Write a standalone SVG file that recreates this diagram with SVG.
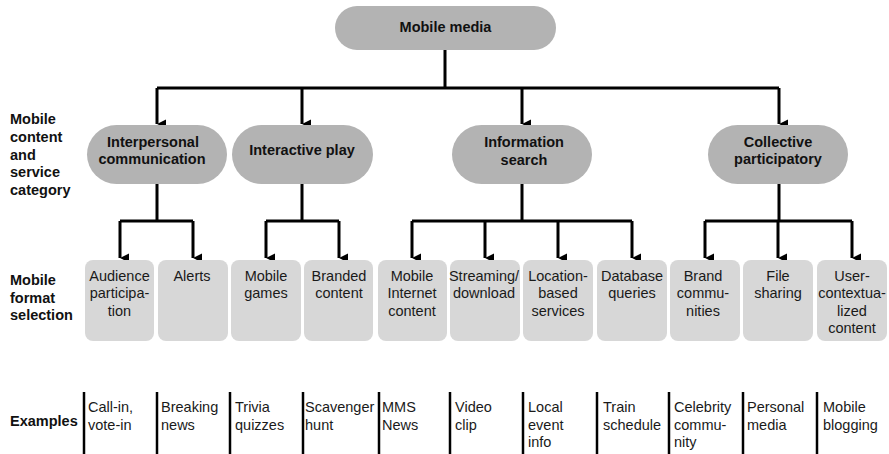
<svg xmlns="http://www.w3.org/2000/svg" width="889" height="454" viewBox="0 0 889 454">
  <style>
    .pill { fill: #b3b3b3; }
    .fmt { fill: #d7d7d7; }
    .bold { font-family: "Liberation Sans", Arial, sans-serif; font-weight: bold; font-size: 14.5px; fill: #111; }
    .reg { font-family: "Liberation Sans", Arial, sans-serif; font-size: 14.5px; fill: #1a1a1a; }
    .mid { text-anchor: middle; }
    .conn { fill: none; stroke: #000; stroke-width: 3; }
    .sep { stroke: #000; stroke-width: 2.5; }
  </style>
  <defs>
    <marker id="arrow" markerUnits="userSpaceOnUse" markerWidth="12" markerHeight="12" viewBox="0 0 12 12" refX="6" refY="10.5" orient="auto-start-reverse">
      <path d="M1.5,1.5 L10.5,1.5 L6,10.5 Z" fill="#000"/>
    </marker>
  </defs>

  <rect width="889" height="454" fill="#fff"/>

  <!-- Row labels -->
  <g id="row-labels">
    <text class="bold" x="10" y="124">Mobile</text>
    <text class="bold" x="10" y="142">content</text>
    <text class="bold" x="10" y="160">and</text>
    <text class="bold" x="10" y="177">service</text>
    <text class="bold" x="10" y="195">category</text>
    <text class="bold" x="10" y="285">Mobile</text>
    <text class="bold" x="10" y="303">format</text>
    <text class="bold" x="10" y="320">selection</text>
    <text class="bold" x="10" y="426">Examples</text>
  </g>

  <!-- Connectors -->
  <g id="connectors">
    <path class="conn" d="M445,50 V88 M157,88 H779"/>
    <path class="conn" d="M157,88 V124" marker-end="url(#arrow)"/>
    <path class="conn" d="M302,88 V124" marker-end="url(#arrow)"/>
    <path class="conn" d="M522,88 V124" marker-end="url(#arrow)"/>
    <path class="conn" d="M779,88 V124" marker-end="url(#arrow)"/>

    <path class="conn" d="M157,184 V221 M120,221 H193"/>
    <path class="conn" d="M120,221 V258" marker-end="url(#arrow)"/>
    <path class="conn" d="M193,221 V258" marker-end="url(#arrow)"/>

    <path class="conn" d="M302,184 V221 M266,221 H339"/>
    <path class="conn" d="M266,221 V258" marker-end="url(#arrow)"/>
    <path class="conn" d="M339,221 V258" marker-end="url(#arrow)"/>

    <path class="conn" d="M522,184 V221 M412,221 H632"/>
    <path class="conn" d="M412,221 V258" marker-end="url(#arrow)"/>
    <path class="conn" d="M485,221 V258" marker-end="url(#arrow)"/>
    <path class="conn" d="M558,221 V258" marker-end="url(#arrow)"/>
    <path class="conn" d="M632,221 V258" marker-end="url(#arrow)"/>

    <path class="conn" d="M779,184 V221 M705,221 H852"/>
    <path class="conn" d="M705,221 V258" marker-end="url(#arrow)"/>
    <path class="conn" d="M778,221 V258" marker-end="url(#arrow)"/>
    <path class="conn" d="M852,221 V258" marker-end="url(#arrow)"/>
  </g>

  <!-- Root -->
  <g id="mobile-media">
    <rect class="pill" x="335" y="6" width="221" height="44" rx="22"/>
    <text class="bold mid" x="445.5" y="32">Mobile media</text>
  </g>

  <!-- Categories -->
  <g id="interpersonal-communication">
    <rect class="pill" x="87" y="125" width="140" height="59" rx="29.5"/>
    <text class="bold mid" x="153" y="147">Interpersonal</text>
    <text class="bold mid" x="152" y="164">communication</text>
  </g>
  <g id="interactive-play">
    <rect class="pill" x="232" y="125" width="141" height="59" rx="29.5"/>
    <text class="bold mid" x="302" y="155">Interactive play</text>
  </g>
  <g id="information-search">
    <rect class="pill" x="452" y="125" width="140" height="59" rx="29.5"/>
    <text class="bold mid" x="524" y="147">Information</text>
    <text class="bold mid" x="524" y="165">search</text>
  </g>
  <g id="collective-participatory">
    <rect class="pill" x="708" y="125" width="140" height="59" rx="29.5"/>
    <text class="bold mid" x="778" y="147">Collective</text>
    <text class="bold mid" x="778" y="164">participatory</text>
  </g>

  <!-- Formats -->
  <g id="audience-participation">
    <rect class="fmt" x="85" y="260" width="69" height="81" rx="8"/>
    <text class="reg mid" x="119.5" y="281">Audience</text>
    <text class="reg mid" x="119.5" y="298">participa-</text>
    <text class="reg mid" x="119.5" y="316">tion</text>
  </g>
  <g id="alerts">
    <rect class="fmt" x="158" y="260" width="70" height="81" rx="8"/>
    <text class="reg mid" x="192" y="281">Alerts</text>
  </g>
  <g id="mobile-games">
    <rect class="fmt" x="231" y="260" width="70" height="81" rx="8"/>
    <text class="reg mid" x="266" y="281">Mobile</text>
    <text class="reg mid" x="266" y="298">games</text>
  </g>
  <g id="branded-content">
    <rect class="fmt" x="304" y="260" width="69" height="81" rx="8"/>
    <text class="reg mid" x="339" y="281">Branded</text>
    <text class="reg mid" x="339" y="298">content</text>
  </g>
  <g id="mobile-internet-content">
    <rect class="fmt" x="378" y="260" width="69" height="81" rx="8"/>
    <text class="reg mid" x="412" y="281">Mobile</text>
    <text class="reg mid" x="412" y="298">Internet</text>
    <text class="reg mid" x="412" y="316">content</text>
  </g>
  <g id="streaming-download">
    <rect class="fmt" x="450" y="260" width="70" height="81" rx="8"/>
    <text class="reg mid" x="484" y="281">Streaming/</text>
    <text class="reg mid" x="484" y="298">download</text>
  </g>
  <g id="location-based-services">
    <rect class="fmt" x="523" y="260" width="70" height="81" rx="8"/>
    <text class="reg mid" x="558" y="281">Location-</text>
    <text class="reg mid" x="558" y="298">based</text>
    <text class="reg mid" x="558" y="316">services</text>
  </g>
  <g id="database-queries">
    <rect class="fmt" x="597" y="260" width="70" height="81" rx="8"/>
    <text class="reg mid" x="632" y="281">Database</text>
    <text class="reg mid" x="632" y="298">queries</text>
  </g>
  <g id="brand-communities">
    <rect class="fmt" x="670" y="260" width="70" height="81" rx="8"/>
    <text class="reg mid" x="703" y="281">Brand</text>
    <text class="reg mid" x="703" y="298">commu-</text>
    <text class="reg mid" x="703" y="316">nities</text>
  </g>
  <g id="file-sharing">
    <rect class="fmt" x="743" y="260" width="70" height="81" rx="8"/>
    <text class="reg mid" x="778" y="281">File</text>
    <text class="reg mid" x="778" y="298">sharing</text>
  </g>
  <g id="user-contextualized-content">
    <rect class="fmt" x="817" y="260" width="70" height="81" rx="8"/>
    <text class="reg mid" x="852" y="281">User-</text>
    <text class="reg mid" x="852" y="298">contextua-</text>
    <text class="reg mid" x="852" y="316">lized</text>
    <text class="reg mid" x="852" y="333">content</text>
  </g>

  <!-- Examples -->
  <g id="examples">
    <line class="sep" x1="84" y1="392" x2="84" y2="454"/>
    <line class="sep" x1="157" y1="392" x2="157" y2="454"/>
    <line class="sep" x1="230" y1="392" x2="230" y2="454"/>
    <line class="sep" x1="303" y1="392" x2="303" y2="454"/>
    <line class="sep" x1="379" y1="392" x2="379" y2="454"/>
    <line class="sep" x1="450" y1="392" x2="450" y2="454"/>
    <line class="sep" x1="523" y1="392" x2="523" y2="454"/>
    <line class="sep" x1="597" y1="392" x2="597" y2="454"/>
    <line class="sep" x1="669" y1="392" x2="669" y2="454"/>
    <line class="sep" x1="743" y1="392" x2="743" y2="454"/>
    <line class="sep" x1="817" y1="392" x2="817" y2="454"/>

    <text class="reg" x="88" y="412">Call-in,</text>
    <text class="reg" x="88" y="430">vote-in</text>
    <text class="reg" x="161" y="412">Breaking</text>
    <text class="reg" x="161" y="430">news</text>
    <text class="reg" x="235" y="412">Trivia</text>
    <text class="reg" x="235" y="430">quizzes</text>
    <text class="reg" x="305" y="412">Scavenger</text>
    <text class="reg" x="305" y="430">hunt</text>
    <text class="reg" x="382" y="412">MMS</text>
    <text class="reg" x="382" y="430">News</text>
    <text class="reg" x="455" y="412">Video</text>
    <text class="reg" x="455" y="430">clip</text>
    <text class="reg" x="528" y="412">Local</text>
    <text class="reg" x="528" y="430">event</text>
    <text class="reg" x="528" y="447">info</text>
    <text class="reg" x="603" y="412">Train</text>
    <text class="reg" x="603" y="430">schedule</text>
    <text class="reg" x="674" y="412">Celebrity</text>
    <text class="reg" x="674" y="430">commu-</text>
    <text class="reg" x="674" y="447">nity</text>
    <text class="reg" x="747" y="412">Personal</text>
    <text class="reg" x="747" y="430">media</text>
    <text class="reg" x="823" y="412">Mobile</text>
    <text class="reg" x="823" y="430">blogging</text>
  </g>
</svg>
